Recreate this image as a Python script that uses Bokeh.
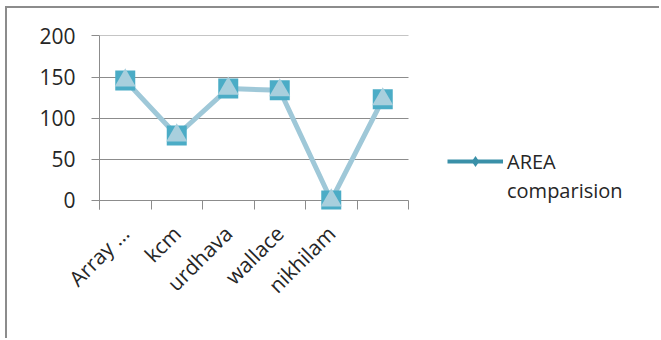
from math import pi
from bokeh.plotting import figure
from bokeh.models import Range1d, FixedTicker, Legend, LegendItem, ColumnDataSource
from bokeh.embed import file_html
from bokeh.resources import INLINE

categories = ["Array …", "kcm", "urdhava", "wallace", "nikhilam", ""]
area_values = [146, 79, 136, 134, 0, 123]
y_ticks = [0, 50, 100, 150, 200]
series_name_lines = ["AREA", "comparision"]

n = len(categories)
xs = [i + 0.5 for i in range(n)]
src = ColumnDataSource(dict(x=xs, y=area_values))

FONT = "Open Sans"
GRAY = "#8c8c8c"

# plot area of the categories is 309px wide; the frame is widened to hold the legend
FRAME_W = 556
CAT_W = 309 / n

p = figure(width=654, height=332, output_backend="svg", toolbar_location=None,
           x_range=Range1d(0, FRAME_W / CAT_W), y_range=Range1d(-11, 200.6),
           min_border_left=92, min_border_right=6, min_border_top=27, min_border_bottom=131,
           margin=(6, 0, 0, 5),
           styles={"border-top": "2px solid #8c8c8c", "border-left": "2px solid #8c8c8c"})
p.outline_line_color = None
p.background_fill_color = "white"
p.border_fill_color = "white"

# y axis
p.yaxis.ticker = FixedTicker(ticks=y_ticks)
p.yaxis.axis_line_color = GRAY
p.yaxis.major_tick_line_color = GRAY
p.yaxis.major_tick_out = 8
p.yaxis.major_tick_in = 0
p.yaxis.minor_tick_line_color = None
p.yaxis.major_label_text_font = FONT
p.yaxis.major_label_text_font_size = "21px"
p.yaxis.major_label_text_color = "#262626"
p.yaxis.major_label_standoff = 16
p.ygrid.grid_line_color = GRAY
p.ygrid.ticker = FixedTicker(ticks=y_ticks)
p.ygrid.cross_bounds = (0, n)

# x axis: labels at category centres, ticks at boundaries
p.xaxis.ticker = FixedTicker(ticks=xs, minor_ticks=list(range(n + 1)))
p.xaxis.major_label_overrides = {x: c for x, c in zip(xs, categories)}
p.xaxis.axis_line_color = None
p.xaxis.major_tick_line_color = None
p.xaxis.minor_tick_line_color = GRAY
p.xaxis.minor_tick_in = 9
p.xaxis.minor_tick_out = 0
p.xaxis.major_label_orientation = pi / 4
p.xaxis.major_label_text_font = FONT
p.xaxis.major_label_text_font_size = "21px"
p.xaxis.major_label_text_color = "#262626"
p.xaxis.major_label_standoff = 14
p.xgrid.grid_line_color = None

p.line("x", "y", source=src, line_color="#9fc8d8", line_width=5)
p.scatter("x", "y", source=src, marker="square", size=20, fill_color="#4bacc6", line_color=None)
p.scatter("x", "y", source=src, marker="triangle", size=21, fill_color="#a8cfdd", line_color=None)

# legend-only renderers (series glyph, and an invisible one for the wrapped second line)
empty = ColumnDataSource(dict(x=[float("nan")], y=[float("nan")]))
lr = p.line("x", "y", source=empty, line_color="#3a90a8", line_width=4)
mr = p.scatter("x", "y", source=empty, marker="diamond", size=15, fill_color="#3a90a8", line_color=None)
ghost = p.scatter("x", "y", source=empty, marker="circle", size=1, fill_alpha=0, line_alpha=0)
legend = Legend(items=[LegendItem(label=series_name_lines[0], renderers=[lr, mr]),
                       LegendItem(label=series_name_lines[1], renderers=[ghost])],
                location=(348, 5), orientation="vertical", spacing=1,
                glyph_width=56, glyph_height=28, label_height=28, label_standoff=4,
                padding=0, margin=0, border_line_color=None, background_fill_alpha=0,
                label_text_font=FONT, label_text_font_size="20px", label_text_color="#262626")
p.add_layout(legend)

open("out.html", "w").write(file_html(p, INLINE))
